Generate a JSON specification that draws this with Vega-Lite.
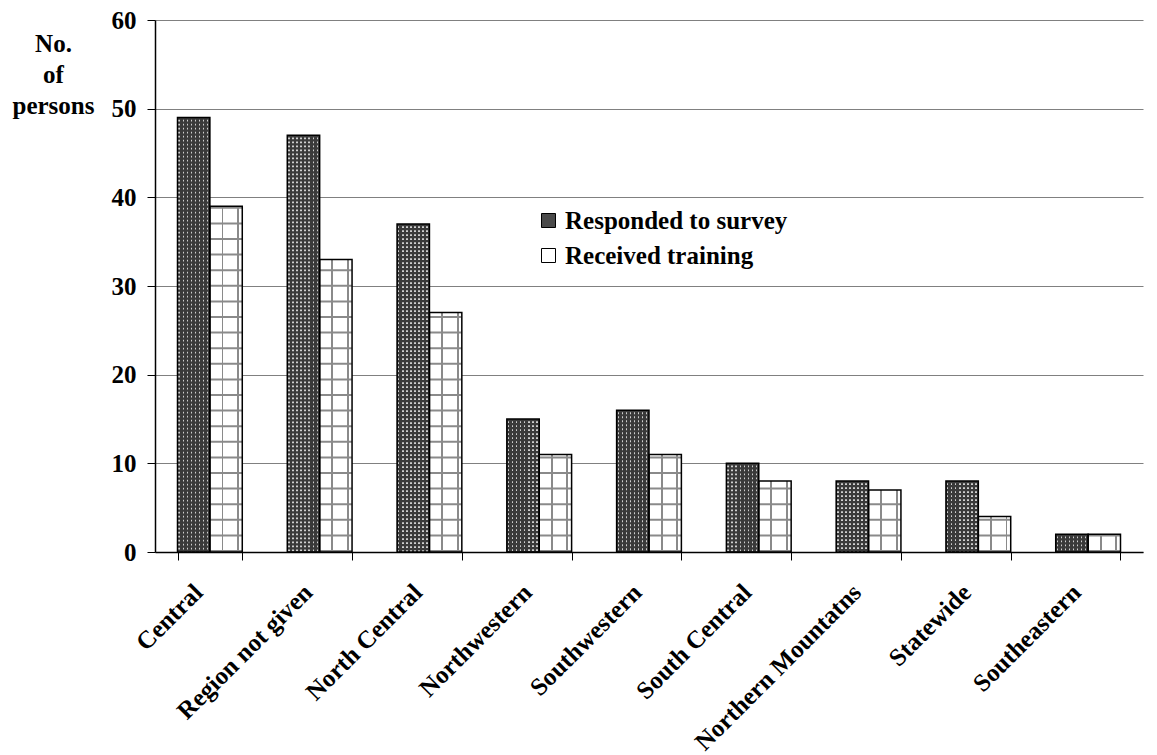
{
  "$schema": "https://vega.github.io/schema/vega-lite/v6.json",
  "autosize": "none",
  "width": 988,
  "height": 532,
  "padding": {"left": 155, "top": 20, "right": 14, "bottom": 203},
  "background": "white",
  "config": {
    "view": {"stroke": null},
    "font": "Liberation Serif",
    "axis": {"labelFont": "Liberation Serif", "titleFont": "Liberation Serif", "labelFontWeight": "bold", "labelFontSize": 25, "labelColor": "black", "domainColor": "black", "tickColor": "black", "labelLimit": 400},
    "legend": {"labelFont": "Liberation Serif", "labelLimit": 400}
  },
  "data": {
    "values": [
      {"region": "Central", "series": "Responded to survey", "value": 49},
      {"region": "Central", "series": "Received training", "value": 39},
      {"region": "Region not given", "series": "Responded to survey", "value": 47},
      {"region": "Region not given", "series": "Received training", "value": 33},
      {"region": "North Central", "series": "Responded to survey", "value": 37},
      {"region": "North Central", "series": "Received training", "value": 27},
      {"region": "Northwestern", "series": "Responded to survey", "value": 15},
      {"region": "Northwestern", "series": "Received training", "value": 11},
      {"region": "Southwestern", "series": "Responded to survey", "value": 16},
      {"region": "Southwestern", "series": "Received training", "value": 11},
      {"region": "South Central", "series": "Responded to survey", "value": 10},
      {"region": "South Central", "series": "Received training", "value": 8},
      {"region": "Northern Mountatns", "series": "Responded to survey", "value": 8},
      {"region": "Northern Mountatns", "series": "Received training", "value": 7},
      {"region": "Statewide", "series": "Responded to survey", "value": 8},
      {"region": "Statewide", "series": "Received training", "value": 4},
      {"region": "Southeastern", "series": "Responded to survey", "value": 2},
      {"region": "Southeastern", "series": "Received training", "value": 2}
    ]
  },
  "encoding": {
    "x": {
      "field": "region", "type": "nominal", "sort": null,
      "scale": {"paddingInner": 0.41, "paddingOuter": 0.205},
      "axis": {"title": null, "labelAngle": -45, "labelAlign": "right", "labelBaseline": "middle", "labelPadding": 28, "labelOffset": -12, "tickBand": "extent", "tickSize": 8, "domainWidth": 1.5, "tickWidth": 1, "grid": false}
    },
    "xOffset": {"field": "series", "type": "nominal", "sort": ["Responded to survey", "Received training"], "scale": {"paddingInner": 0, "paddingOuter": 0}},
    "y": {
      "field": "value", "type": "quantitative",
      "scale": {"domain": [0, 60], "nice": false},
      "axis": {"values": [0, 10, 20, 30, 40, 50, 60], "title": ["No.", "of", "persons"], "titleAngle": 0, "titleAlign": "center", "titleBaseline": "alphabetic", "titleX": -102, "titleY": 31, "titleFontSize": 25, "titleFontWeight": "bold", "titleLineHeight": 31, "titleColor": "black", "grid": true, "gridColor": "#808080", "gridWidth": 1, "domainWidth": 1.5, "tickSize": 8, "labelPadding": 11}
    }
  },
  "layer": [
    {
      "mark": {"type": "bar"},
      "encoding": {
        "color": {
          "field": "series", "type": "nominal", "sort": ["Responded to survey", "Received training"],
          "scale": {"range": ["#4a4a4a", "#ffffff"]},
          "legend": {"title": null, "orient": "none", "legendX": 381, "legendY": 188, "symbolType": "square", "symbolSize": 196, "symbolStrokeColor": "black", "symbolStrokeWidth": 1, "symbolOpacity": 1, "labelFontSize": 25, "labelFontWeight": "bold", "labelColor": "black", "rowPadding": 9, "labelOffset": 4}
        }
      }
    },
    {
      "transform": [{"filter": "datum.series === 'Responded to survey'"}],
      "mark": {"type": "bar", "strokeWidth": 0, "fill": {"gradient": "linear", "x1": 0, "y1": 0, "x2": 1, "y2": 0, "stops": [
        {"offset": 0.0, "color": "#3a3a3a"}, {"offset": 0.03, "color": "#3a3a3a"}, {"offset": 0.03, "color": "#cfcfcf"}, {"offset": 0.075, "color": "#cfcfcf"}, {"offset": 0.075, "color": "#3a3a3a"},
        {"offset": 0.155, "color": "#3a3a3a"}, {"offset": 0.155, "color": "#cfcfcf"}, {"offset": 0.2, "color": "#cfcfcf"}, {"offset": 0.2, "color": "#3a3a3a"},
        {"offset": 0.28, "color": "#3a3a3a"}, {"offset": 0.28, "color": "#cfcfcf"}, {"offset": 0.325, "color": "#cfcfcf"}, {"offset": 0.325, "color": "#3a3a3a"},
        {"offset": 0.405, "color": "#3a3a3a"}, {"offset": 0.405, "color": "#cfcfcf"}, {"offset": 0.45, "color": "#cfcfcf"}, {"offset": 0.45, "color": "#3a3a3a"},
        {"offset": 0.53, "color": "#3a3a3a"}, {"offset": 0.53, "color": "#cfcfcf"}, {"offset": 0.575, "color": "#cfcfcf"}, {"offset": 0.575, "color": "#3a3a3a"},
        {"offset": 0.655, "color": "#3a3a3a"}, {"offset": 0.655, "color": "#cfcfcf"}, {"offset": 0.7, "color": "#cfcfcf"}, {"offset": 0.7, "color": "#3a3a3a"},
        {"offset": 0.78, "color": "#3a3a3a"}, {"offset": 0.78, "color": "#cfcfcf"}, {"offset": 0.825, "color": "#cfcfcf"}, {"offset": 0.825, "color": "#3a3a3a"},
        {"offset": 0.905, "color": "#3a3a3a"}, {"offset": 0.905, "color": "#cfcfcf"}, {"offset": 0.95, "color": "#cfcfcf"}, {"offset": 0.95, "color": "#3a3a3a"},
        {"offset": 1.0, "color": "#3a3a3a"}
      ]}}
    },
    {
      "transform": [{"filter": "datum.series === 'Responded to survey'"}],
      "mark": {"type": "rule", "stroke": "#3a3a3a", "strokeWidth": 32, "strokeDash": [2.2, 1.8], "strokeCap": "butt"},
      "encoding": {"y2": {"datum": 0}}
    },
    {
      "transform": [{"filter": "datum.series === 'Received training'"}],
      "mark": {"type": "bar", "strokeWidth": 0, "fill": {"gradient": "linear", "x1": 0, "y1": 0, "x2": 1, "y2": 0, "stops": [
        {"offset": 0.0, "color": "#ffffff"}, {"offset": 0.36, "color": "#ffffff"}, {"offset": 0.36, "color": "#8a8a8a"}, {"offset": 0.42, "color": "#8a8a8a"}, {"offset": 0.42, "color": "#ffffff"},
        {"offset": 0.84, "color": "#ffffff"}, {"offset": 0.84, "color": "#8a8a8a"}, {"offset": 0.9, "color": "#8a8a8a"}, {"offset": 0.9, "color": "#ffffff"}, {"offset": 1.0, "color": "#ffffff"}
      ]}}
    },
    {
      "transform": [{"filter": "datum.series === 'Received training'"}],
      "mark": {"type": "rule", "stroke": "#8a8a8a", "strokeWidth": 32, "strokeDash": [2, 13.6], "strokeCap": "butt"},
      "encoding": {"y": {"datum": 0}, "y2": {"field": "value"}}
    },
    {
      "mark": {"type": "bar", "fill": "transparent", "stroke": "black", "strokeWidth": 1.5}
    }
  ]
}
